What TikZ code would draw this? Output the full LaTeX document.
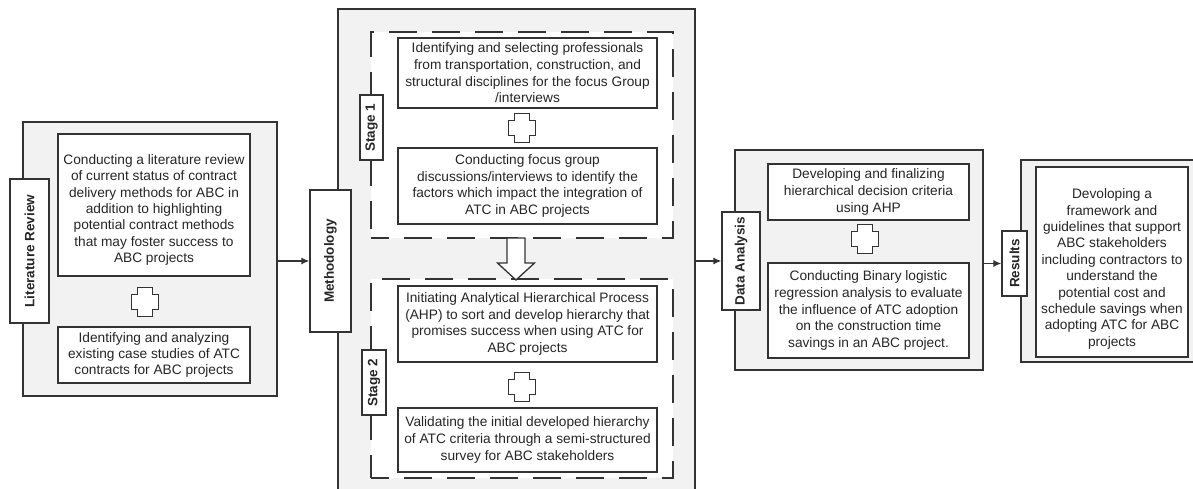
\documentclass[tikz,border=0pt]{standalone}
\usepackage{fontspec}
\setmainfont{Liberation Sans}
\usetikzlibrary{arrows.meta}
\definecolor{linec}{HTML}{333333}
\definecolor{panel}{HTML}{F2F2F2}
\definecolor{txt}{HTML}{262626}
\tikzset{
  panelbox/.style={draw=linec, line width=1.3pt, fill=panel, inner sep=0pt},
  textbox/.style={draw=linec, line width=1.3pt, fill=white, inner sep=0pt, align=center, text=txt,
    font=\fontsize{13.7}{16.6}\selectfont},
  plaintext/.style={inner sep=0pt, align=center, text=txt, font=\fontsize{13.7}{16.4}\selectfont},
  labelbox/.style={draw=linec, line width=1.3pt, fill=white, inner sep=0pt, rotate=90, text=txt,
    font=\fontsize{13.5}{16}\selectfont\bfseries},
  stagebox/.style={draw=linec, line width=1.4pt, fill=white, dash pattern=on 28pt off 15pt, dash phase=10pt, inner sep=0pt},
  arr/.style={draw=linec, line width=1.3pt, -{Latex[length=8pt,width=7pt]}},
  pics/plussign/.style={code={
    \draw[draw=linec, line width=1.3pt, fill=white]
      (-7.2,-14.5) -- (7.2,-14.5) -- (7.2,-7.5) -- (13.5,-7.5) -- (13.5,7.5) -- (7.2,7.5)
      -- (7.2,14.5) -- (-7.2,14.5) -- (-7.2,7.5) -- (-13.5,7.5) -- (-13.5,-7.5) -- (-7.2,-7.5) -- cycle;
  }},
}
\begin{document}
\begin{tikzpicture}[x=1pt,y=-1pt]
\useasboundingbox (0,0) rectangle (1193,489);

% ---------- Literature review ----------
\node[panelbox, minimum width=254pt, minimum height=274pt] (litouter) at (150,259) {};
\node[textbox, minimum width=192pt, minimum height=142pt] (lit1) at (154,205) {};
\node[plaintext] (lit1text) at ([yshift=-5pt]lit1.center)
  {Conducting a literature review\\of current status of contract\\delivery methods for ABC in\\addition to highlighting\\potential contract methods\\that may foster success to\\ABC projects};
\pic at (145,302) {plussign};
\node[textbox, font=\fontsize{13.7}{16.2}\selectfont, minimum width=192pt, minimum height=56pt] (lit2) at (154,355)
  {Identifying and analyzing\\existing case studies of ATC\\contracts for ABC projects};
\node[labelbox, minimum width=144pt, minimum height=39pt] (litlabel) at (29.5,251) {Literature Review};

% ---------- Methodology ----------
\node[panelbox, minimum width=357pt, minimum height=491pt] (methouter) at (516.5,254.5) {};
\node[stagebox, minimum width=302pt, minimum height=206pt] (stage1) at (522,135) {};
\node[stagebox, minimum width=302pt, minimum height=199pt] (stage2) at (522,378.5) {};
\node[textbox, minimum width=259pt, minimum height=70pt] (a1) at (527.5,73)
  {Identifying and selecting professionals\\from transportation, construction, and\\structural disciplines for the focus Group\\/interviews};
\pic at (522,128) {plussign};
\node[textbox, minimum width=259pt, minimum height=76pt] (a2) at (527.5,186)
  {Conducting focus group\\discussions/interviews to identify the\\factors which impact the integration of\\ATC in ABC projects};
\node[textbox, minimum width=259pt, minimum height=76pt] (b1) at (527.5,324)
  {Initiating Analytical Hierarchical Process\\(AHP) to sort and develop hierarchy that\\promises success when using ATC for\\ABC projects};
\pic at (522,387) {plussign};
\node[textbox, minimum width=259pt, minimum height=64pt] (b2) at (527.5,440)
  {Validating the initial developed hierarchy\\of ATC criteria through a semi-structured\\survey for ABC stakeholders};
\node[labelbox, minimum width=65pt, minimum height=23pt] (s1label) at (371.5,127.5) {Stage 1};
\node[labelbox, minimum width=65pt, minimum height=24pt] (s2label) at (374,382.5) {Stage 2};
% hollow arrow between the stages
\draw[draw=linec, line width=1.3pt, fill=white]
  (507,238) -- (525,238) -- (525,263) -- (534.5,263) -- (516,280) -- (497.5,263) -- (507,263) -- cycle;
\node[labelbox, minimum width=142pt, minimum height=41pt] (methlabel) at (330.5,261) {Methodology};

% ---------- Data analysis ----------
\node[panelbox, minimum width=248pt, minimum height=220pt] (daouter) at (859,260) {};
\node[textbox, minimum width=201pt, minimum height=56pt] (c1) at (868.5,192)
  {Developing and finalizing\\hierarchical decision criteria\\using AHP};
\pic at (865,239) {plussign};
\node[textbox, minimum width=201pt, minimum height=95pt] (c2) at (868.5,310.5)
  {Conducting Binary logistic\\regression analysis to evaluate\\the influence of ATC adoption\\on the construction time\\savings in an ABC project.};
\node[labelbox, minimum width=98pt, minimum height=38pt] (dalabel) at (741,261) {Data Analysis};

% ---------- Results ----------
\node[panelbox, minimum width=179pt, minimum height=202pt] (resouter) at (1110.5,261) {};
\node[textbox, minimum width=152pt, minimum height=190pt] (r1) at (1112,262) {};
\node[plaintext] (r1text) at ([yshift=-7pt]r1.center)
  {Devoloping a\\framework and\\guidelines that support\\ABC stakeholders\\including contractors to\\understand the\\potential cost and\\schedule savings when\\adopting ATC for ABC\\projects};
\node[labelbox, minimum width=65pt, minimum height=25pt] (reslabel) at (1014.5,263.5) {Results};

% ---------- connectors ----------
\draw[arr] (methlabel.north -| litouter.east) -- (methlabel.north);
\draw[arr] (dalabel.north -| methouter.east) -- (dalabel.north);
\draw[arr] (reslabel.north -| daouter.east) -- (reslabel.north);
\end{tikzpicture}
\end{document}
